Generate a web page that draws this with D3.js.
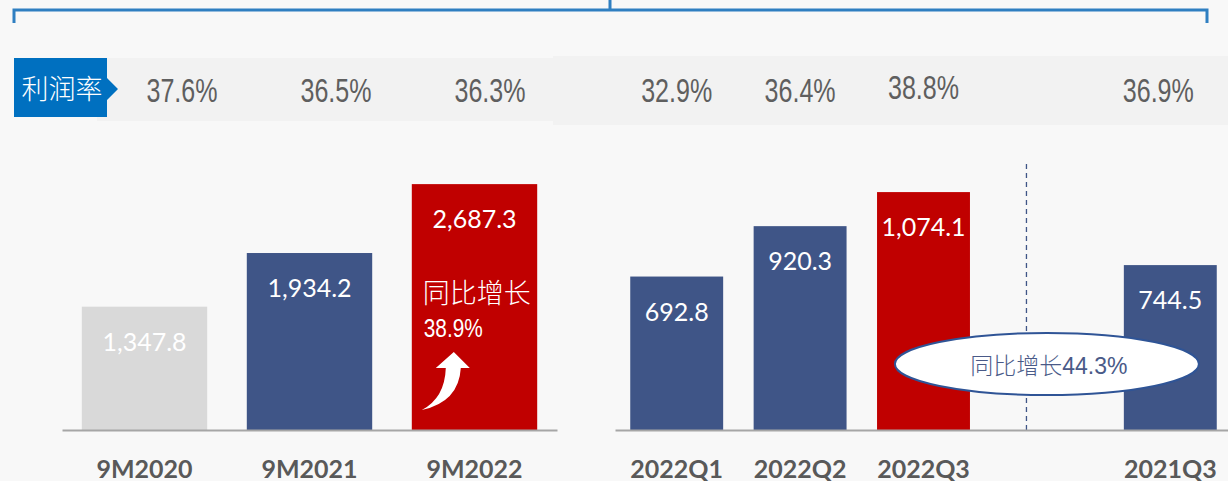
<!DOCTYPE html>
<html>
<head>
<meta charset="utf-8">
<script src="https://cdn.jsdelivr.net/npm/d3@7"></script>
<style>
  html, body { margin: 0; padding: 0; background: #f8f8f8; }
  svg { display: block; }
</style>
</head>
<body>
<div id="chart"></div>
<script>
// data
var leftCats = ["9M2020", "9M2021", "9M2022"];
var leftValues = [1347.8, 1934.2, 2687.3];
var leftMargins = [37.6, 36.5, 36.3];
var rightCats = ["2022Q1", "2022Q2", "2022Q3", "2021Q3"];
var rightValues = [692.8, 920.3, 1074.1, 744.5];
var rightMargins = [32.9, 36.4, 38.8, 36.9];
var marginLabel = "利润率";
var growthLabel = "同比增长";
var growth9M = 38.9;
var growthQ3 = 44.3;

var W = 1228, H = 481, base = 430;
var blue = "#3f5587", red = "#c00000", grey = "#d9d9d9";
var leftColors = [grey, blue, red];
var rightColors = [blue, blue, red, blue];
var numFont = "Lato, 'Open Sans', sans-serif";
var narrowFont = "'Liberation Sans', Arial, sans-serif";
var cjk = "'Noto Sans CJK SC', sans-serif";
var fmt = d3.format(",.1f");
var pct = function(v){ return d3.format(".1f")(v) + "%"; };

var svg = d3.select("#chart").append("svg")
  .attr("width", W).attr("height", H);

svg.append("rect").attr("width", W).attr("height", H).attr("fill", "#f8f8f8");

// bracket on top
svg.append("path")
  .attr("d", "M14,23 V10 H1207 V23 M610,10 V0")
  .attr("fill", "none")
  .attr("stroke", "#2f7fc1")
  .attr("stroke-width", 3);

// margin row bands
svg.append("rect").attr("x", 97).attr("y", 58).attr("width", 456).attr("height", 63).attr("fill", "#f2f2f2");
svg.append("rect").attr("x", 553).attr("y", 56).attr("width", W - 553).attr("height", 69).attr("fill", "#f2f2f2");

svg.append("path")
  .attr("d", "M14,58 H107 V78 L118,89 L107,100 V117 H14 Z")
  .attr("fill", "#0070c0");
svg.append("text")
  .attr("x", 62).attr("y", 99)
  .attr("text-anchor", "middle")
  .style("font-family", cjk).style("font-size", "27px").style("font-weight", 300)
  .attr("fill", "#fff")
  .text(marginLabel);

// scales
var xL = d3.scaleBand().domain(leftCats).range([62, 557]).paddingInner(0.24).paddingOuter(0.12);
var yL = d3.scaleLinear().domain([0, 3000]).range([base, base - 0.0915 * 3000]);
var rightSlots = [rightCats[0], rightCats[1], rightCats[2], "_gap", rightCats[3]];
var xR = d3.scaleBand().domain(rightSlots).range([615, 1232]).paddingInner(0.247).paddingOuter(0.1235);
var yR = d3.scaleLinear().domain([0, 1200]).range([base, base - 0.2215 * 1200]);

// percentages
var pctLX = d3.scalePoint().domain(leftCats).range([182, 490]);
function pctText(x, y, v) {
  svg.append("text")
    .attr("transform", "translate(" + x + "," + y + ") scale(0.76,1)")
    .attr("text-anchor", "middle")
    .style("font-family", narrowFont).style("font-size", "33px")
    .attr("fill", "#5f5f5f")
    .text(pct(v));
}
leftCats.forEach(function(c, i){ pctText(pctLX(c), 102, leftMargins[i]); });
rightCats.forEach(function(c, i){
  pctText(xR(c) + xR.bandwidth() / 2 - (i === 3 ? 12 : 0), i === 2 ? 99 : 102, rightMargins[i]);
});

// dashed separator
var sepX = xR("_gap") + xR.bandwidth() * 0.28;
svg.append("line")
  .attr("x1", sepX).attr("x2", sepX).attr("y1", 164).attr("y2", base)
  .attr("stroke", blue).attr("stroke-width", 1.3).attr("stroke-dasharray", "5,4");

// bars
function drawBars(cats, vals, colors, x, y) {
  var g = svg.append("g");
  g.selectAll("rect").data(cats).enter().append("rect")
    .attr("x", function(d){ return x(d); })
    .attr("y", function(d, i){ return y(vals[i]); })
    .attr("width", x.bandwidth())
    .attr("height", function(d, i){ return base - y(vals[i]); })
    .attr("fill", function(d, i){ return colors[i]; });
  g.selectAll("text").data(cats).enter().append("text")
    .attr("x", function(d){ return x(d) + x.bandwidth() / 2; })
    .attr("y", function(d, i){ return y(vals[i]) + 44; })
    .attr("text-anchor", "middle")
    .style("font-family", numFont).style("font-size", "25px")
    .attr("fill", "#fff")
    .text(function(d, i){ return fmt(vals[i]); });
}
drawBars(leftCats, leftValues, leftColors, xL, yL);
drawBars(rightCats, rightValues, rightColors, xR, yR);

// axes
function drawAxis(x, ticks) {
  var ax = svg.append("g")
    .attr("transform", "translate(0," + base + ")")
    .call(d3.axisBottom(x).tickValues(ticks).tickSize(0).tickPadding(30));
  ax.select(".domain").attr("stroke", "#a6a6a6").attr("stroke-width", 2);
  ax.selectAll("text")
    .style("font-family", numFont).style("font-size", "25px").style("font-weight", "bold")
    .attr("fill", "#595959");
}
drawAxis(xL, leftCats);
drawAxis(xR, rightCats);

// growth note inside 9M2022 bar
var bx = xL("9M2022");
svg.append("text")
  .attr("x", bx + 11).attr("y", 303)
  .style("font-family", cjk).style("font-size", "27px").style("font-weight", 300)
  .attr("fill", "#fff")
  .text(growthLabel);
svg.append("text")
  .attr("transform", "translate(" + (bx + 12) + ",337) scale(0.8,1)")
  .style("font-family", narrowFont).style("font-size", "26px")
  .attr("fill", "#fff")
  .text(pct(growth9M));

// curved arrow
svg.append("path")
  .attr("transform", "translate(" + bx + ",0)")
  .attr("d", "M42,352 L58,368 L49,368 Q47,402 10,410 Q33,398 34,368 L24,368 Z")
  .attr("fill", "#fff");

// quarterly growth ellipse
var ex = (xR("2022Q3") + xR("2021Q3") + xR.bandwidth()) / 2;
svg.append("ellipse")
  .attr("cx", ex).attr("cy", 364).attr("rx", 152).attr("ry", 31)
  .attr("fill", "#fff").attr("stroke", "#2f5496").attr("stroke-width", 2);
var et = svg.append("text")
  .attr("x", ex + 2).attr("y", 374)
  .attr("text-anchor", "middle")
  .attr("fill", "#4a5a88");
et.append("tspan").style("font-family", cjk).style("font-size", "23px").style("font-weight", 300).text(growthLabel);
et.append("tspan").style("font-family", narrowFont).style("font-size", "23px").text(pct(growthQ3));
</script>
</body>
</html>
